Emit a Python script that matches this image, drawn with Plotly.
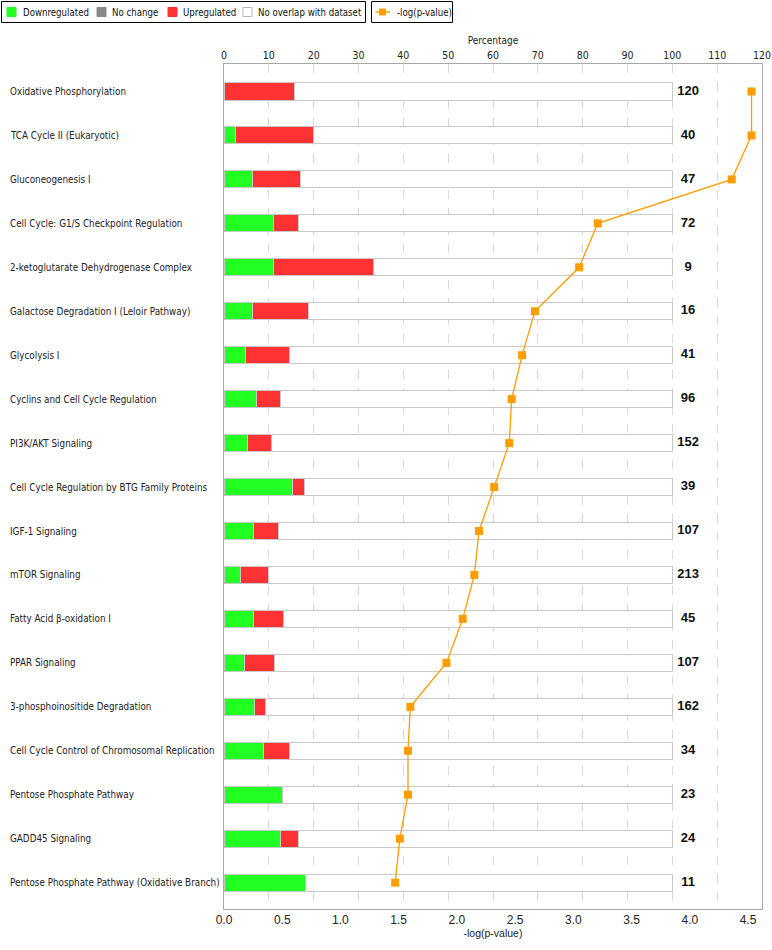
import plotly.graph_objects as go

# ---------------- data ----------------
categories = [
    "Oxidative Phosphorylation",
    "TCA Cycle II (Eukaryotic)",
    "Gluconeogenesis I",
    "Cell Cycle: G1/S Checkpoint Regulation",
    "2-ketoglutarate Dehydrogenase Complex",
    "Galactose Degradation I (Leloir Pathway)",
    "Glycolysis I",
    "Cyclins and Cell Cycle Regulation",
    "PI3K/AKT Signaling",
    "Cell Cycle Regulation by BTG Family Proteins",
    "IGF-1 Signaling",
    "mTOR Signaling",
    "Fatty Acid β-oxidation I",
    "PPAR Signaling",
    "3-phosphoinositide Degradation",
    "Cell Cycle Control of Chromosomal Replication",
    "Pentose Phosphate Pathway",
    "GADD45 Signaling",
    "Pentose Phosphate Pathway (Oxidative Branch)",
]
total_molecules = [120, 40, 47, 72, 9, 16, 41, 96, 152, 39, 107, 213, 45, 107, 162, 34, 23, 24, 11]
downregulated = [0, 1, 3, 8, 1, 1, 2, 7, 8, 6, 7, 8, 3, 5, 11, 3, 3, 3, 2]
no_change = [0, 0, 0, 0, 0, 0, 0, 0, 0, 0, 0, 0, 0, 0, 0, 0, 0, 0, 0]
upregulated = [19, 7, 5, 4, 2, 2, 4, 5, 8, 1, 6, 13, 3, 7, 4, 2, 0, 1, 0]
neg_log_p = [4.53, 4.53, 4.36, 3.21, 3.05, 2.67, 2.56, 2.47, 2.45, 2.32,
             2.19, 2.15, 2.05, 1.91, 1.60, 1.58, 1.58, 1.51, 1.47]
pct_ticks = [0, 10, 20, 30, 40, 50, 60, 70, 80, 90, 100, 110, 120]
p_ticks = [0.0, 0.5, 1.0, 1.5, 2.0, 2.5, 3.0, 3.5, 4.0, 4.5]

# ---------------- styling ----------------
GREEN = "#22FF22"
GREY = "#888888"
RED = "#FF3333"
ORANGE = "#FF9C00"
OUTLINE = "#C8C8C8"
AXIS = "#A8A8A8"
SANS = "Tahoma, 'DejaVu Sans Condensed', 'Liberation Sans', Arial, sans-serif"
ARIAL = "Arial, 'Liberation Sans', sans-serif"

W, H = 772, 950
ML, MR, MT, MB = 224, 10, 64, 41
PW, PH = W - ML - MR, H - MT - MB


def px(x):
    return (x - ML) / PW


def py(y):
    return 1 - (y - MT) / PH


pct_down = [d / t * 100 for d, t in zip(downregulated, total_molecules)]
pct_nc = [n / t * 100 for n, t in zip(no_change, total_molecules)]
pct_up = [u / t * 100 for u, t in zip(upregulated, total_molecules)]
pct_rest = [100 - a - b - c for a, b, c in zip(pct_down, pct_nc, pct_up)]

fig = go.Figure()
for name, vals, col in [
    ("Downregulated", pct_down, GREEN),
    ("No change", pct_nc, GREY),
    ("Upregulated", pct_up, RED),
    ("No overlap with dataset", pct_rest, "#FFFFFF"),
]:
    fig.add_trace(go.Bar(
        name=name, y=categories, x=vals, orientation="h",
        marker=dict(color=col, line=dict(color=OUTLINE, width=1)),
        xaxis="x", yaxis="y", showlegend=False, hoverinfo="skip",
    ))

fig.add_trace(go.Scatter(
    y=categories, x=[103.5] * len(categories), mode="text",
    text=[str(t) for t in total_molecules],
    textfont=dict(family=ARIAL, size=13, color="#111111", weight="bold"),
    xaxis="x", yaxis="y", showlegend=False, hoverinfo="skip", cliponaxis=False,
))

fig.add_trace(go.Scatter(
    name="-log(p-value)", y=categories, x=neg_log_p, mode="lines+markers",
    line=dict(color=ORANGE, width=1.3),
    marker=dict(symbol="square", size=8, color=ORANGE),
    xaxis="x2", yaxis="y", showlegend=False, cliponaxis=False,
))

annotations = []
for c in categories:
    annotations.append(dict(
        x=px(8), xref="paper", y=c, yref="y", text=c, showarrow=False,
        xanchor="left", yanchor="middle",
        font=dict(family=SANS, size=9.8, color="#222222"),
    ))

# manual legends (two boxed groups)
shapes = [
    dict(type="rect", xref="paper", yref="paper", x0=px(1.5), x1=px(365.5),
         y0=py(22.5), y1=py(1.5), line=dict(color="#000000", width=1)),
    dict(type="rect", xref="paper", yref="paper", x0=px(371.5), x1=px(452.5),
         y0=py(22.5), y1=py(1.5), line=dict(color="#000000", width=1)),
    dict(type="line", xref="paper", yref="paper", x0=px(375.5), x1=px(390),
         y0=py(12), y1=py(12), line=dict(color=ORANGE, width=1.5)),
    dict(type="rect", xref="paper", yref="paper", x0=px(379), x1=px(386),
         y0=py(15.5), y1=py(8.5), fillcolor=ORANGE, line=dict(width=0)),
]
legend_items = [
    ("Downregulated", GREEN, 7, 21),
    ("No change", GREY, 97, 110),
    ("Upregulated", RED, 168, 181),
    ("No overlap with dataset", "#FFFFFF", 243, 256),
]
for label, col, sx, tx in legend_items:
    shapes.append(dict(type="rect", xref="paper", yref="paper", x0=px(sx), x1=px(sx + 9),
                       y0=py(16.5), y1=py(7.5), fillcolor=col,
                       line=dict(color="#BBBBBB" if col == "#FFFFFF" else col, width=1)))
    annotations.append(dict(x=px(tx), xref="paper", y=py(12), yref="paper", text=label,
                            showarrow=False, xanchor="left", yanchor="middle",
                            font=dict(family=SANS, size=9.6, color="#111111")))
annotations.append(dict(x=px(395), xref="paper", y=py(12), yref="paper", text="-log(p-value)",
                        showarrow=False, xanchor="left", yanchor="middle",
                        font=dict(family=SANS, size=9.6, color="#111111")))

fig.update_layout(
    width=W, height=H,
    margin=dict(l=ML, r=MR, t=MT, b=MB, autoexpand=False),
    paper_bgcolor="white", plot_bgcolor="white",
    barmode="stack", bargap=0.61,
    showlegend=False,
    xaxis=dict(
        side="top", range=[0, 120], tickvals=pct_ticks, automargin=False,
        showgrid=True, gridcolor="#D8D8D8", griddash="dash", gridwidth=1,
        showline=True, linecolor=AXIS, linewidth=1, zeroline=False,
        ticks="", tickfont=dict(family=SANS, size=10.5, color="#222222"),
        title=dict(text="Percentage", font=dict(family=SANS, size=10, color="#222222"), standoff=2),
        fixedrange=True,
    ),
    xaxis2=dict(
        overlaying="x", side="bottom", anchor="y", range=[0, 4.62], tickvals=p_ticks,
        tickformat=".1f", showgrid=False, zeroline=False, automargin=False,
        showline=True, linecolor=AXIS, linewidth=1, ticks="",
        tickfont=dict(family=ARIAL, size=12, color="#222222"),
        title=dict(text="-log(p-value)", font=dict(family=ARIAL, size=10.5, color="#222222"), standoff=3),
    ),
    yaxis=dict(
        range=[18.6, -0.625], showticklabels=False, showgrid=False, zeroline=False,
        automargin=False,
        showline=True, mirror=True, linecolor=AXIS, linewidth=1, ticks="",
    ),
    shapes=shapes,
    annotations=annotations,
)

fig.write_html("out.html", config={"displayModeBar": False},
               post_script="document.body.style.margin='0';")
